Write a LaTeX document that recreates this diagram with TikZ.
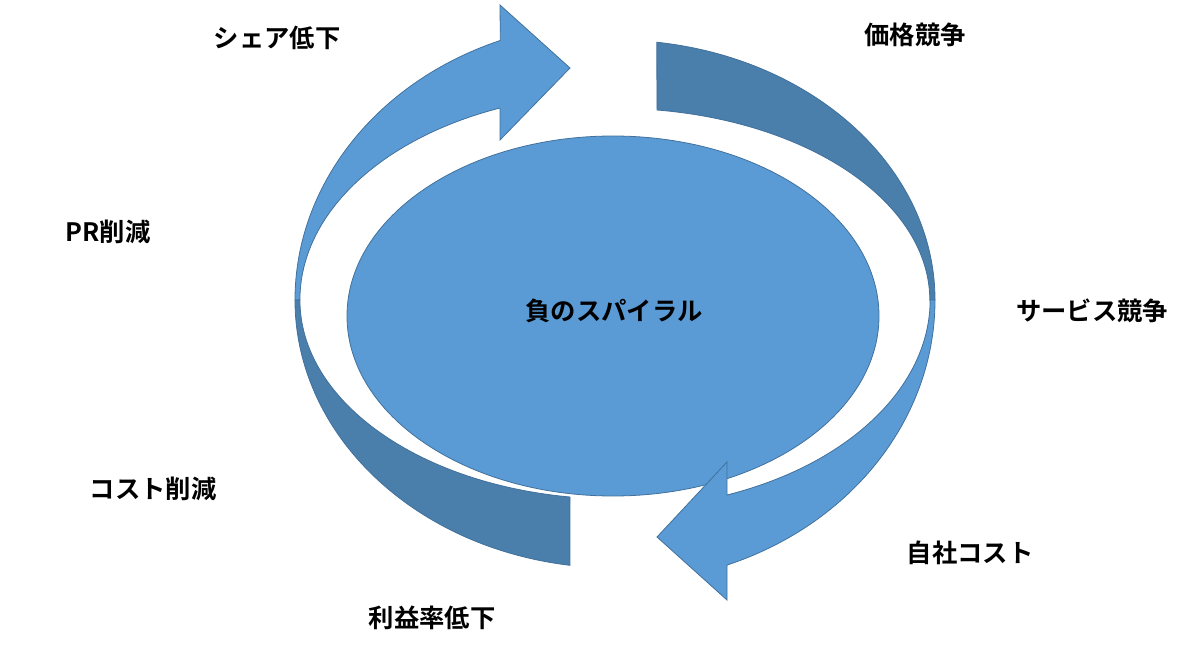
\documentclass[tikz,border=0pt]{standalone}
\usetikzlibrary{shapes.geometric}
\usepackage{fontspec}
\setmainfont{Noto Sans CJK JP}[BoldFont={* Bold}]
\begin{document}
\begin{tikzpicture}[x=0.75pt,y=0.75pt,
  light/.style={fill={rgb,255:red,91;green,155;blue,213},draw={rgb,255:red,65;green,113;blue,156},line width=0.6pt},
  dark/.style={fill={rgb,255:red,74;green,126;blue,171},draw={rgb,255:red,65;green,113;blue,156},line width=0.6pt},
  lab/.style={font=\bfseries\fontsize{19}{22}\selectfont,inner sep=0pt}]
\useasboundingbox (0,0) rectangle (1200,651);
% back bands
\path[dark] (295,351) arc[start angle=180,end angle=261.9,x radius=320,y radius=268] -- (570,154) arc[start angle=261.8,end angle=180,x radius=315,y radius=199] -- cycle;
\path[dark] (935,351) arc[start angle=0,end angle=82.5,x radius=320,y radius=260] -- (657,541) arc[start angle=82.3,end angle=0,x radius=315,y radius=192] -- cycle;
% ellipse
\node[light,ellipse,minimum width=399pt,minimum height=270pt,inner sep=0pt] (c) at (613,335) {};
\node[lab] (ct) at (614,340) {負のスパイラル};
% front arrows
\path[light] (295,351) arc[start angle=180,end angle=111,x radius=320,y radius=278] -- (500,646) -- (570,583) -- (500,511) -- (500,543) arc[start angle=111.4,end angle=180,x radius=315,y radius=206] -- cycle;
\path[light] (935,351) arc[start angle=360,end angle=290.5,x radius=320,y radius=283] -- (727,51) -- (657,114) -- (727,189) -- (727,156) arc[start angle=290.8,end angle=360,x radius=315,y radius=209] -- cycle;
% labels
\node[lab] (a) at (277,613) {シェア低下};
\node[lab] (b) at (915,616) {価格競争};
\node[lab] (d) at (108,419) {PR削減};
\node[lab] (e) at (1092,340) {サービス競争};
\node[lab] (f) at (153,162) {コスト削減};
\node[lab] (g) at (970,98) {自社コスト};
\node[lab] (h) at (432,33) {利益率低下};
\end{tikzpicture}
\end{document}
